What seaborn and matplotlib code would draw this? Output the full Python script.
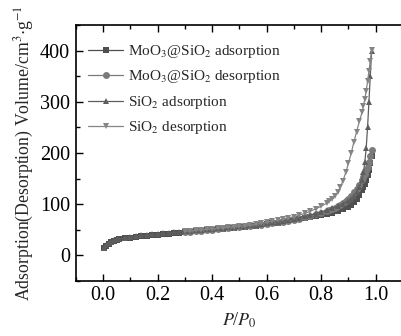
import matplotlib
matplotlib.use("Agg")
import matplotlib.pyplot as plt
import seaborn as sns
from matplotlib.ticker import MultipleLocator

# relative pressure grids
x_ads = [0.005, 0.01, 0.02, 0.03, 0.04, 0.05, 0.06, 0.08, 0.10, 0.12, 0.14, 0.16, 0.18,
         0.20, 0.22, 0.24, 0.26, 0.28, 0.30, 0.32, 0.34, 0.36, 0.38, 0.40, 0.42, 0.44,
         0.46, 0.48, 0.50, 0.52, 0.54, 0.56, 0.58, 0.60, 0.62, 0.64, 0.66, 0.68, 0.70,
         0.72, 0.74, 0.76, 0.78, 0.80, 0.82, 0.84, 0.86, 0.88, 0.90, 0.91, 0.92, 0.93,
         0.94, 0.95, 0.955, 0.96, 0.965, 0.97, 0.975, 0.98, 0.985]
x_des = [0.985, 0.98, 0.975, 0.97, 0.965, 0.96, 0.955, 0.95, 0.94, 0.93, 0.92, 0.91, 0.90,
         0.89, 0.88, 0.87, 0.86, 0.85, 0.84, 0.83, 0.82, 0.80, 0.78, 0.76, 0.74, 0.72,
         0.70, 0.68, 0.66, 0.64, 0.62, 0.60, 0.58, 0.56, 0.54, 0.52, 0.50, 0.48, 0.46,
         0.44, 0.42, 0.40, 0.38, 0.36, 0.34, 0.32, 0.30]

moo3_ads = [14, 19, 23, 26, 28, 29.5, 31, 33, 34.5, 36, 37, 38, 39,
            40, 41, 42, 43, 44, 45, 46, 47, 48, 49, 50, 51, 52,
            53, 54, 55, 56, 57, 58, 59.5, 61, 62.5, 64, 65.5, 67, 69,
            71, 73, 75, 76.5, 78, 80, 83, 86, 90, 95, 99, 104, 110,
            118, 128, 134, 140, 148, 157, 167, 180, 195]
moo3_des = [206, 195, 183, 172, 166, 160, 154, 148, 138, 130, 123, 116, 111,
            107, 103, 99, 96, 93, 91, 89, 87, 83, 80, 77, 74.5, 72,
            70, 68, 66, 64.5, 63, 61.5, 60, 58.5, 57.5, 56.5, 55.5, 54.5, 53.5,
            52.5, 51.5, 50.5, 49.5, 48.5, 47.5, 46.5, 45.5]
sio2_ads = [15, 20, 24, 27, 29, 31, 32, 34.5, 36, 37.5, 39, 40, 41,
            42, 43, 44, 45, 46, 47, 48, 49, 50, 51, 52, 53, 54,
            55, 56, 57, 58, 59, 60, 61.5, 63, 64.5, 66, 67.5, 69.5, 71.5,
            73.5, 76, 78.5, 81.5, 85, 88, 92, 96, 101, 107, 111, 116, 123,
            133, 148, 162, 182, 210, 250, 300, 350, 400]
sio2_des = [402, 380, 360, 340, 322, 305, 292, 280, 262, 242, 222, 200, 180,
            162, 146, 133, 123, 116, 110, 106, 102, 96, 91, 86, 82, 78.5,
            75.5, 73, 70.5, 68.5, 66.5, 64.5, 62.5, 60.5, 59, 58, 57, 56, 55,
            54, 53, 52, 51, 50, 49, 48, 47]

labels = ["MoO$_3$@SiO$_2$ adsorption", "MoO$_3$@SiO$_2$ desorption",
          "SiO$_2$ adsorption", "SiO$_2$ desorption"]
colors = ["#4f4f4f", "#7a7a7a", "#5e5e5e", "#858585"]
markers = ["s", "o", "^", "v"]

sns.set_style("ticks")
plt.rcParams["font.family"] = ["Liberation Serif", "DejaVu Serif"]
plt.rcParams["mathtext.fontset"] = "stix"

fig = plt.figure(figsize=(4.01, 3.36), dpi=100)
ax = fig.add_axes([0.189, 0.164, 0.816, 0.761])

series = [(x_ads, moo3_ads), (x_des, moo3_des), (x_ads, sio2_ads), (x_des, sio2_des)]
for (xs, ys), lab, c, m in zip(series, labels, colors, markers):
    sns.lineplot(x=xs, y=ys, sort=False, ax=ax, color=c, marker=m, markersize=5,
                 markeredgewidth=0, linewidth=0.9, label=lab)

ax.set_xlim(-0.1, 1.1)
ax.set_ylim(-50, 450)
ax.xaxis.set_major_locator(MultipleLocator(0.2))
ax.xaxis.set_minor_locator(MultipleLocator(0.1))
ax.yaxis.set_major_locator(MultipleLocator(100))
ax.yaxis.set_minor_locator(MultipleLocator(50))
ax.tick_params(which="both", direction="in", top=True, right=False, labelsize=14.5,
               width=1, colors="black")
ax.tick_params(which="major", length=5, pad=4)
ax.tick_params(which="minor", length=3)
for sp in ax.spines.values():
    sp.set_linewidth(1.2)
    sp.set_color("black")

ax.set_xlabel("$P$/$P_0$", fontsize=13, labelpad=4)
ax.set_ylabel("Adsorption(Desorption) Volume/cm$^3$$\\cdot$g$^{-1}$", fontsize=12.8, labelpad=3)

ax.legend(loc="upper left", frameon=False, fontsize=11, handlelength=2.3,
          handletextpad=0.3, labelspacing=0.55, borderaxespad=0.3,
          bbox_to_anchor=(0.005, 0.972))

fig.savefig("out.png", dpi=100)
